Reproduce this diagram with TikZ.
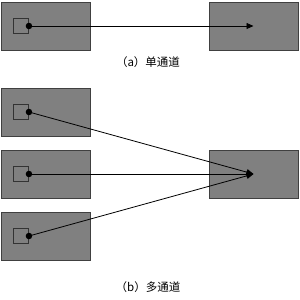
\documentclass[tikz,border=0pt]{standalone}
\usepackage{fontspec}
\newfontfamily\cjk{Noto Sans CJK SC}
\usepackage{tikz}
\usetikzlibrary{arrows.meta,positioning}

\begin{document}
\begin{tikzpicture}[x=1pt,y=-1pt,
  chan/.style={draw=black!75,fill=black!50,line width=0.9pt,minimum width=89pt,minimum height=48pt,inner sep=0pt},
  port/.style={draw=black!80,fill=black!50,line width=0.9pt,minimum size=15pt,inner sep=0pt},
  link/.style={black,line width=0.8pt,-{Triangle[length=7pt,width=6pt]}},
  dot/.style={circle,fill=black,inner sep=0pt,minimum size=6.5pt},
  caption/.style={font=\cjk\fontsize{11.5}{14}\selectfont}]
  \useasboundingbox (0,0) rectangle (300,300);
  % (a) single channel
  \node[chan] (srcA) at (45.5,26) {};
  \node[chan] (dstA) at (253.5,26) {};
  \node[port] (portA) at (21,26) {};
  \node[dot] (dotA) at (portA.east) {};
  \draw[link] (dotA.center) -- (dstA.center);
  \node[caption] (capA) at (148,62) {（a）单通道};
  % (b) multi channel
  \node[chan] (dstB) at (253.5,174) {};
  \foreach \i/\y in {1/112,2/174,3/236}{
    \node[chan] (src\i) at (45.5,\y) {};
    \node[port] (port\i) at (21,\y) {};
    \node[dot] (dot\i) at (port\i.east) {};
  }
  \foreach \i in {1,2,3}{
    \draw[link] (dot\i.center) -- (dstB.center);
  }
  \node[caption] (capB) at (148,287) {（b）多通道};
\end{tikzpicture}
\end{document}
